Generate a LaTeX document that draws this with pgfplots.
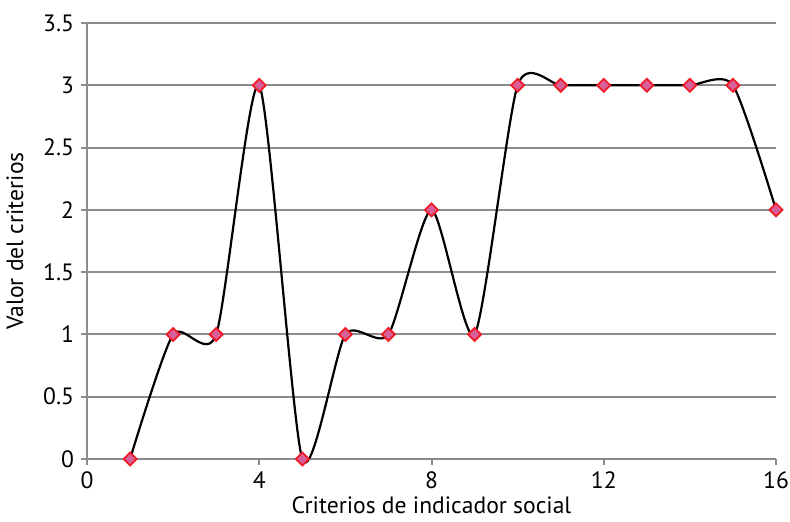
\documentclass[border=0pt]{standalone}
\usepackage{pgfplots}
\pgfplotsset{compat=1.18}
\usepackage{fontspec}
\setmainfont{PT Sans}
\definecolor{gridgray}{HTML}{8C8C8C}
\definecolor{mkred}{HTML}{EE1C25}
\definecolor{mkfill}{HTML}{D8609A}
\begin{document}
\begin{tikzpicture}
\path[use as bounding box] (-43.5pt,-31pt) rectangle (351.5pt,229.5pt);
\begin{axis}[
  at={(0,0)}, anchor=south west,
  scale only axis, width=344.5pt, height=218pt,
  xmin=0, xmax=16, ymin=0, ymax=3.5,
  xtick={0,4,8,12,16}, ytick={0,0.5,...,3.5},
  yticklabels={0,0.5,1,1.5,2,2.5,3,3.5},
  /pgf/number format/assume math mode=true,
  axis x line*=bottom, axis y line*=left,
  axis line style={gridgray, line width=1pt, -},
  tick style={gridgray, line width=1pt},
  tick align=outside, major tick length=3pt,
  ymajorgrids, grid style={gridgray, line width=1pt},
  tick label style={font=\fontsize{11.8pt}{13pt}\selectfont, text=black},
  label style={font=\fontsize{11.8pt}{13pt}\selectfont},
  xlabel={Criterios de indicador social},
  ylabel={Valor del criterios},
  xlabel style={inner sep=1pt, yshift=1pt},
  ylabel style={yshift=3pt},
  clip=false,
]
\addplot[black, line width=1.1pt, smooth, tension=0.4,
  mark=square*, mark size=2.3pt,
  mark options={draw=mkred, fill=mkfill, line width=0.9pt, rotate=45}]
  coordinates {
  (1,0) (2,1) (3,1) (4,3) (5,0) (6,1) (7,1) (8,2)
  (9,1) (10,3) (11,3) (12,3) (13,3) (14,3) (15,3) (16,2)
  };
\end{axis}
\end{tikzpicture}
\end{document}
